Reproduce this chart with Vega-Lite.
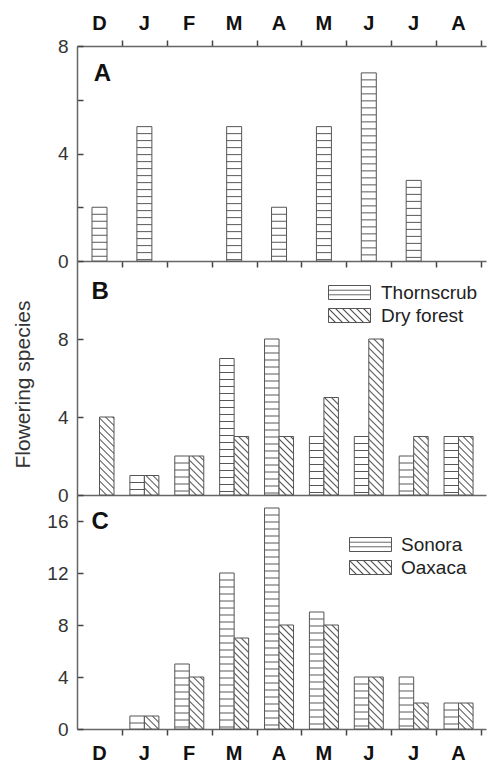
{
  "$schema": "https://vega.github.io/schema/vega-lite/v6.json",
  "padding": {"left": 12, "top": 13, "right": 2, "bottom": 0},
  "spacing": 0,
  "bounds": "flush",
  "config": {
    "view": {"stroke": null},
    "font": "Liberation Sans",
    "axis": {"grid": false, "domainColor": "#666", "domainWidth": 1.5, "tickColor": "#444", "tickWidth": 1.5, "labelFont": "Liberation Sans", "titleFont": "Liberation Sans", "labelColor": "#333", "titleColor": "#333"}
  },
  "params": [
    {"name": "hs", "value": [
      {"offset":0.0246,"color":"#fff"},{"offset":0.0286,"color":"#555"},{"offset":0.0326,"color":"#fff"},
      {"offset":0.0531,"color":"#fff"},{"offset":0.0571,"color":"#555"},{"offset":0.0611,"color":"#fff"},
      {"offset":0.0817,"color":"#fff"},{"offset":0.0857,"color":"#555"},{"offset":0.0897,"color":"#fff"},
      {"offset":0.1103,"color":"#fff"},{"offset":0.1143,"color":"#555"},{"offset":0.1183,"color":"#fff"},
      {"offset":0.1389,"color":"#fff"},{"offset":0.1429,"color":"#555"},{"offset":0.1469,"color":"#fff"},
      {"offset":0.1674,"color":"#fff"},{"offset":0.1714,"color":"#555"},{"offset":0.1754,"color":"#fff"},
      {"offset":0.196,"color":"#fff"},{"offset":0.2,"color":"#555"},{"offset":0.204,"color":"#fff"},
      {"offset":0.2246,"color":"#fff"},{"offset":0.2286,"color":"#555"},{"offset":0.2326,"color":"#fff"},
      {"offset":0.2531,"color":"#fff"},{"offset":0.2571,"color":"#555"},{"offset":0.2611,"color":"#fff"},
      {"offset":0.2817,"color":"#fff"},{"offset":0.2857,"color":"#555"},{"offset":0.2897,"color":"#fff"},
      {"offset":0.3103,"color":"#fff"},{"offset":0.3143,"color":"#555"},{"offset":0.3183,"color":"#fff"},
      {"offset":0.3389,"color":"#fff"},{"offset":0.3429,"color":"#555"},{"offset":0.3469,"color":"#fff"},
      {"offset":0.3674,"color":"#fff"},{"offset":0.3714,"color":"#555"},{"offset":0.3754,"color":"#fff"},
      {"offset":0.396,"color":"#fff"},{"offset":0.4,"color":"#555"},{"offset":0.404,"color":"#fff"},
      {"offset":0.4246,"color":"#fff"},{"offset":0.4286,"color":"#555"},{"offset":0.4326,"color":"#fff"},
      {"offset":0.4531,"color":"#fff"},{"offset":0.4571,"color":"#555"},{"offset":0.4611,"color":"#fff"},
      {"offset":0.4817,"color":"#fff"},{"offset":0.4857,"color":"#555"},{"offset":0.4897,"color":"#fff"},
      {"offset":0.5103,"color":"#fff"},{"offset":0.5143,"color":"#555"},{"offset":0.5183,"color":"#fff"},
      {"offset":0.5389,"color":"#fff"},{"offset":0.5429,"color":"#555"},{"offset":0.5469,"color":"#fff"},
      {"offset":0.5674,"color":"#fff"},{"offset":0.5714,"color":"#555"},{"offset":0.5754,"color":"#fff"},
      {"offset":0.596,"color":"#fff"},{"offset":0.6,"color":"#555"},{"offset":0.604,"color":"#fff"},
      {"offset":0.6246,"color":"#fff"},{"offset":0.6286,"color":"#555"},{"offset":0.6326,"color":"#fff"},
      {"offset":0.6531,"color":"#fff"},{"offset":0.6571,"color":"#555"},{"offset":0.6611,"color":"#fff"},
      {"offset":0.6817,"color":"#fff"},{"offset":0.6857,"color":"#555"},{"offset":0.6897,"color":"#fff"},
      {"offset":0.7103,"color":"#fff"},{"offset":0.7143,"color":"#555"},{"offset":0.7183,"color":"#fff"},
      {"offset":0.7389,"color":"#fff"},{"offset":0.7429,"color":"#555"},{"offset":0.7469,"color":"#fff"},
      {"offset":0.7674,"color":"#fff"},{"offset":0.7714,"color":"#555"},{"offset":0.7754,"color":"#fff"},
      {"offset":0.796,"color":"#fff"},{"offset":0.8,"color":"#555"},{"offset":0.804,"color":"#fff"},
      {"offset":0.8246,"color":"#fff"},{"offset":0.8286,"color":"#555"},{"offset":0.8326,"color":"#fff"},
      {"offset":0.8531,"color":"#fff"},{"offset":0.8571,"color":"#555"},{"offset":0.8611,"color":"#fff"},
      {"offset":0.8817,"color":"#fff"},{"offset":0.8857,"color":"#555"},{"offset":0.8897,"color":"#fff"},
      {"offset":0.9103,"color":"#fff"},{"offset":0.9143,"color":"#555"},{"offset":0.9183,"color":"#fff"},
      {"offset":0.9389,"color":"#fff"},{"offset":0.9429,"color":"#555"},{"offset":0.9469,"color":"#fff"},
      {"offset":0.9674,"color":"#fff"},{"offset":0.9714,"color":"#555"},{"offset":0.9754,"color":"#fff"}
    ]},
    {"name": "ds", "value": [
      {"offset":0.0226,"color":"#fff"},{"offset":0.0286,"color":"#555"},{"offset":0.0346,"color":"#fff"},
      {"offset":0.0511,"color":"#fff"},{"offset":0.0571,"color":"#555"},{"offset":0.0631,"color":"#fff"},
      {"offset":0.0797,"color":"#fff"},{"offset":0.0857,"color":"#555"},{"offset":0.0917,"color":"#fff"},
      {"offset":0.1083,"color":"#fff"},{"offset":0.1143,"color":"#555"},{"offset":0.1203,"color":"#fff"},
      {"offset":0.1369,"color":"#fff"},{"offset":0.1429,"color":"#555"},{"offset":0.1489,"color":"#fff"},
      {"offset":0.1654,"color":"#fff"},{"offset":0.1714,"color":"#555"},{"offset":0.1774,"color":"#fff"},
      {"offset":0.194,"color":"#fff"},{"offset":0.2,"color":"#555"},{"offset":0.206,"color":"#fff"},
      {"offset":0.2226,"color":"#fff"},{"offset":0.2286,"color":"#555"},{"offset":0.2346,"color":"#fff"},
      {"offset":0.2511,"color":"#fff"},{"offset":0.2571,"color":"#555"},{"offset":0.2631,"color":"#fff"},
      {"offset":0.2797,"color":"#fff"},{"offset":0.2857,"color":"#555"},{"offset":0.2917,"color":"#fff"},
      {"offset":0.3083,"color":"#fff"},{"offset":0.3143,"color":"#555"},{"offset":0.3203,"color":"#fff"},
      {"offset":0.3369,"color":"#fff"},{"offset":0.3429,"color":"#555"},{"offset":0.3489,"color":"#fff"},
      {"offset":0.3654,"color":"#fff"},{"offset":0.3714,"color":"#555"},{"offset":0.3774,"color":"#fff"},
      {"offset":0.394,"color":"#fff"},{"offset":0.4,"color":"#555"},{"offset":0.406,"color":"#fff"},
      {"offset":0.4226,"color":"#fff"},{"offset":0.4286,"color":"#555"},{"offset":0.4346,"color":"#fff"},
      {"offset":0.4511,"color":"#fff"},{"offset":0.4571,"color":"#555"},{"offset":0.4631,"color":"#fff"},
      {"offset":0.4797,"color":"#fff"},{"offset":0.4857,"color":"#555"},{"offset":0.4917,"color":"#fff"},
      {"offset":0.5083,"color":"#fff"},{"offset":0.5143,"color":"#555"},{"offset":0.5203,"color":"#fff"},
      {"offset":0.5369,"color":"#fff"},{"offset":0.5429,"color":"#555"},{"offset":0.5489,"color":"#fff"},
      {"offset":0.5654,"color":"#fff"},{"offset":0.5714,"color":"#555"},{"offset":0.5774,"color":"#fff"},
      {"offset":0.594,"color":"#fff"},{"offset":0.6,"color":"#555"},{"offset":0.606,"color":"#fff"},
      {"offset":0.6226,"color":"#fff"},{"offset":0.6286,"color":"#555"},{"offset":0.6346,"color":"#fff"},
      {"offset":0.6511,"color":"#fff"},{"offset":0.6571,"color":"#555"},{"offset":0.6631,"color":"#fff"},
      {"offset":0.6797,"color":"#fff"},{"offset":0.6857,"color":"#555"},{"offset":0.6917,"color":"#fff"},
      {"offset":0.7083,"color":"#fff"},{"offset":0.7143,"color":"#555"},{"offset":0.7203,"color":"#fff"},
      {"offset":0.7369,"color":"#fff"},{"offset":0.7429,"color":"#555"},{"offset":0.7489,"color":"#fff"},
      {"offset":0.7654,"color":"#fff"},{"offset":0.7714,"color":"#555"},{"offset":0.7774,"color":"#fff"},
      {"offset":0.794,"color":"#fff"},{"offset":0.8,"color":"#555"},{"offset":0.806,"color":"#fff"},
      {"offset":0.8226,"color":"#fff"},{"offset":0.8286,"color":"#555"},{"offset":0.8346,"color":"#fff"},
      {"offset":0.8511,"color":"#fff"},{"offset":0.8571,"color":"#555"},{"offset":0.8631,"color":"#fff"},
      {"offset":0.8797,"color":"#fff"},{"offset":0.8857,"color":"#555"},{"offset":0.8917,"color":"#fff"},
      {"offset":0.9083,"color":"#fff"},{"offset":0.9143,"color":"#555"},{"offset":0.9203,"color":"#fff"},
      {"offset":0.9369,"color":"#fff"},{"offset":0.9429,"color":"#555"},{"offset":0.9489,"color":"#fff"},
      {"offset":0.9654,"color":"#fff"},{"offset":0.9714,"color":"#555"},{"offset":0.9774,"color":"#fff"}
    ]},
    {"name": "lh", "value": {"gradient": "linear", "x1": 0, "y1": 0, "x2": 0, "y2": 1, "stops": [
      {"offset":0.27,"color":"#fff"},{"offset":0.333,"color":"#555"},{"offset":0.4,"color":"#fff"},
      {"offset":0.6,"color":"#fff"},{"offset":0.667,"color":"#555"},{"offset":0.73,"color":"#fff"}]}},
    {"name": "ld", "expr": "{gradient:'linear',x1:0,y1:1,x2:5.25,y2:-0.75,stops:ds}"}
  ],
  "resolve": {"scale": {"stroke": "independent"}},
  "vconcat": [
    {
      "width": 409, "height": 215,
      "data": {"values": [
        {"month":"D","idx":0,"v":2},{"month":"J","idx":1,"v":5},{"month":"M","idx":3,"v":5},
        {"month":"A","idx":4,"v":2},{"month":"M","idx":5,"v":5},{"month":"J","idx":6,"v":7},{"month":"J","idx":7,"v":3}
      ]},
      "resolve": {"axis": {"x": "independent"}},
      "layer": [
        {
          "mark": {"type": "bar", "width": 15, "stroke": "#555", "strokeWidth": 1,
                   "fill": {"expr": "{gradient:'linear',x1:0,y1:0,x2:0,y2:245/(datum.v*26.875),stops:hs}"}},
          "encoding": {
            "x": {"field": "idx", "type": "quantitative",
                  "scale": {"domain": [-0.39, 8.5], "nice": false, "zero": false},
                  "axis": {"orient": "top", "title": null, "values": [0.5,1.5,2.5,3.5,4.5,5.5,6.5,7.5,8.5],
                           "labelExpr": "['D','J','F','M','A','M','J','J','A'][round(datum.value-0.5)]",
                           "labelOffset": -23, "labelFontSize": 20, "labelFontWeight": "bold", "labelColor": "#111",
                           "labelPadding": 7, "labelOverlap": false, "labelFlush": false, "tickSize": 6}},
            "y": {"field": "v", "type": "quantitative", "scale": {"domain": [0, 8], "nice": false},
                  "axis": {"title": null, "values": [0,2,4,6,8], "labelExpr": "datum.value % 4 == 0 ? datum.label : ''",
                           "tickSize": -6, "labelPadding": 15, "labelFontSize": 19}}
          }
        },
        {
          "data": {"values": [{"panel": "A"}]},
          "mark": {"type": "text", "align": "left", "baseline": "alphabetic", "fontSize": 24, "fontWeight": "bold", "color": "#111"},
          "encoding": {
            "text": {"field": "panel"},
            "x": {"datum": -0.13, "type": "quantitative",
                  "axis": {"orient": "bottom", "title": null, "values": [0.5,1.5,2.5,3.5,4.5,5.5,6.5,7.5,8.5], "labels": false, "tickSize": 6}},
            "y": {"datum": 6.69, "type": "quantitative",
                  "axis": {"title": null, "values": [0,2,4,6,8], "labelExpr": "datum.value % 4 == 0 ? datum.label : ''",
                           "tickSize": -6, "labelPadding": 15, "labelFontSize": 19}}
          }
        }
      ]
    },
    {
      "width": 409, "height": 234,
      "data": {"values": [
        {"series":"Thornscrub","month":"J","idx":1,"v":1},{"series":"Thornscrub","month":"F","idx":2,"v":2},
        {"series":"Thornscrub","month":"M","idx":3,"v":7},{"series":"Thornscrub","month":"A","idx":4,"v":8},
        {"series":"Thornscrub","month":"M","idx":5,"v":3},{"series":"Thornscrub","month":"J","idx":6,"v":3},
        {"series":"Thornscrub","month":"J","idx":7,"v":2},{"series":"Thornscrub","month":"A","idx":8,"v":3},
        {"series":"Dry forest","month":"D","idx":0,"v":4},{"series":"Dry forest","month":"J","idx":1,"v":1},
        {"series":"Dry forest","month":"F","idx":2,"v":2},{"series":"Dry forest","month":"M","idx":3,"v":3},
        {"series":"Dry forest","month":"A","idx":4,"v":3},{"series":"Dry forest","month":"M","idx":5,"v":5},
        {"series":"Dry forest","month":"J","idx":6,"v":8},{"series":"Dry forest","month":"J","idx":7,"v":3},
        {"series":"Dry forest","month":"A","idx":8,"v":3}
      ]},
      "layer": [
        {
          "transform": [{"filter": "datum.series == 'Thornscrub'"}],
          "mark": {"type": "bar", "width": 14.5, "xOffset": -7.25, "strokeWidth": 1,
                   "fill": {"expr": "isValid(datum.v) ? {gradient:'linear',x1:0,y1:0,x2:0,y2:245/(datum.v*19.5),stops:hs} : (datum.value == 'Dry forest' ? ld : lh)"}},
          "encoding": {
            "x": {"field": "idx", "type": "quantitative",
                  "scale": {"domain": [-0.39, 8.5], "nice": false, "zero": false},
                  "axis": {"orient": "bottom", "title": null, "ticks": false, "labels": false}},
            "y": {"field": "v", "type": "quantitative", "scale": {"domain": [0, 12], "nice": false},
                  "axis": {"title": "Flowering species", "titleFontSize": 21, "titleFontWeight": "normal", "titlePadding": 24, "titleY": 123,
                           "values": [0,4,8], "tickSize": -6, "labelPadding": 15, "labelFontSize": 19}},
            "stroke": {"field": "series", "type": "nominal",
                       "scale": {"domain": ["Thornscrub", "Dry forest"], "range": ["#555", "#555"]},
                       "legend": {"title": null, "orient": "none", "legendX": 249, "legendY": 22,
                                  "symbolType": "M-3,-1L3,-1L3,1L-3,1Z", "symbolSize": 196, "symbolOffset": 14,
                                  "symbolStrokeWidth": 1, "labelFontSize": 19, "labelColor": "#222", "labelOffset": 22, "rowPadding": 3,
                                  "encode": {"symbols": {"fill": {"value": {"expr": "datum.value == 'Dry forest' ? ld : lh"}}}}}}
          }
        },
        {
          "transform": [{"filter": "datum.series == 'Dry forest'"}],
          "mark": {"type": "bar", "width": 14.5, "xOffset": 7.25, "strokeWidth": 1,
                   "fill": {"expr": "isValid(datum.v) ? {gradient:'linear',x1:0,y1:1,x2:245*14.5/(210.25+pow(datum.v*19.5,2)),y2:1-245*datum.v*19.5/(210.25+pow(datum.v*19.5,2)),stops:ds} : (datum.value == 'Dry forest' ? ld : lh)"}},
          "encoding": {
            "x": {"field": "idx", "type": "quantitative",
                  "axis": {"orient": "bottom", "title": null, "ticks": false, "labels": false}},
            "y": {"field": "v", "type": "quantitative",
                  "axis": {"title": "Flowering species", "titleFontSize": 21, "titleFontWeight": "normal", "titlePadding": 24, "titleY": 123,
                           "values": [0,4,8], "tickSize": -6, "labelPadding": 15, "labelFontSize": 19}},
            "stroke": {"field": "series", "type": "nominal",
                       "scale": {"domain": ["Thornscrub", "Dry forest"], "range": ["#555", "#555"]},
                       "legend": {"title": null, "orient": "none", "legendX": 249, "legendY": 22,
                                  "symbolType": "M-3,-1L3,-1L3,1L-3,1Z", "symbolSize": 196, "symbolOffset": 14,
                                  "symbolStrokeWidth": 1, "labelFontSize": 19, "labelColor": "#222", "labelOffset": 22, "rowPadding": 3,
                                  "encode": {"symbols": {"fill": {"value": {"expr": "datum.value == 'Dry forest' ? ld : lh"}}}}}}
          }
        },
        {
          "data": {"values": [{"panel": "B"}]},
          "mark": {"type": "text", "align": "left", "baseline": "alphabetic", "fontSize": 24, "fontWeight": "bold", "color": "#111"},
          "encoding": {
            "text": {"field": "panel"},
            "x": {"datum": -0.18, "type": "quantitative",
                  "axis": {"orient": "bottom", "title": null, "ticks": false, "labels": false}},
            "y": {"datum": 10.03, "type": "quantitative",
                  "axis": {"title": "Flowering species", "titleFontSize": 21, "titleFontWeight": "normal", "titlePadding": 24, "titleY": 123,
                           "values": [0,4,8], "tickSize": -6, "labelPadding": 15, "labelFontSize": 19}}
          }
        }
      ]
    },
    {
      "width": 409, "height": 234,
      "data": {"values": [
        {"series":"Sonora","month":"J","idx":1,"v":1},{"series":"Sonora","month":"F","idx":2,"v":5},
        {"series":"Sonora","month":"M","idx":3,"v":12},{"series":"Sonora","month":"A","idx":4,"v":17},
        {"series":"Sonora","month":"M","idx":5,"v":9},{"series":"Sonora","month":"J","idx":6,"v":4},
        {"series":"Sonora","month":"J","idx":7,"v":4},{"series":"Sonora","month":"A","idx":8,"v":2},
        {"series":"Oaxaca","month":"J","idx":1,"v":1},{"series":"Oaxaca","month":"F","idx":2,"v":4},
        {"series":"Oaxaca","month":"M","idx":3,"v":7},{"series":"Oaxaca","month":"A","idx":4,"v":8},
        {"series":"Oaxaca","month":"M","idx":5,"v":8},{"series":"Oaxaca","month":"J","idx":6,"v":4},
        {"series":"Oaxaca","month":"J","idx":7,"v":2},{"series":"Oaxaca","month":"A","idx":8,"v":2}
      ]},
      "layer": [
        {
          "transform": [{"filter": "datum.series == 'Sonora'"}],
          "mark": {"type": "bar", "width": 14.5, "xOffset": -7.25, "strokeWidth": 1,
                   "fill": {"expr": "isValid(datum.v) ? {gradient:'linear',x1:0,y1:0,x2:0,y2:245/(datum.v*13),stops:hs} : (datum.value == 'Oaxaca' ? ld : lh)"}},
          "encoding": {
            "x": {"field": "idx", "type": "quantitative",
                  "scale": {"domain": [-0.39, 8.5], "nice": false, "zero": false},
                  "axis": {"orient": "bottom", "title": null, "values": [0.5,1.5,2.5,3.5,4.5,5.5,6.5,7.5,8.5],
                           "labelExpr": "['D','J','F','M','A','M','J','J','A'][round(datum.value-0.5)]",
                           "labelOffset": -23, "labelFontSize": 20, "labelFontWeight": "bold", "labelColor": "#111",
                           "labelPadding": 8, "labelOverlap": false, "labelFlush": false, "tickSize": 6}},
            "y": {"field": "v", "type": "quantitative", "scale": {"domain": [0, 18], "nice": false},
                  "axis": {"title": null, "values": [0,4,8,12,16], "tickSize": -6, "labelPadding": 15, "labelFontSize": 19}},
            "stroke": {"field": "series", "type": "nominal",
                       "scale": {"domain": ["Sonora", "Oaxaca"], "range": ["#555", "#555"]},
                       "legend": {"title": null, "orient": "none", "legendX": 270, "legendY": 40,
                                  "symbolType": "M-3,-1L3,-1L3,1L-3,1Z", "symbolSize": 196, "symbolOffset": 14,
                                  "symbolStrokeWidth": 1, "labelFontSize": 19, "labelColor": "#222", "labelOffset": 21, "rowPadding": 3,
                                  "encode": {"symbols": {"fill": {"value": {"expr": "datum.value == 'Oaxaca' ? ld : lh"}}}}}}
          }
        },
        {
          "transform": [{"filter": "datum.series == 'Oaxaca'"}],
          "mark": {"type": "bar", "width": 14.5, "xOffset": 7.25, "strokeWidth": 1,
                   "fill": {"expr": "isValid(datum.v) ? {gradient:'linear',x1:0,y1:1,x2:245*14.5/(210.25+pow(datum.v*13,2)),y2:1-245*datum.v*13/(210.25+pow(datum.v*13,2)),stops:ds} : (datum.value == 'Oaxaca' ? ld : lh)"}},
          "encoding": {
            "x": {"field": "idx", "type": "quantitative",
                  "axis": {"orient": "bottom", "title": null, "values": [0.5,1.5,2.5,3.5,4.5,5.5,6.5,7.5,8.5],
                           "labelExpr": "['D','J','F','M','A','M','J','J','A'][round(datum.value-0.5)]",
                           "labelOffset": -23, "labelFontSize": 20, "labelFontWeight": "bold", "labelColor": "#111",
                           "labelPadding": 8, "labelOverlap": false, "labelFlush": false, "tickSize": 6}},
            "y": {"field": "v", "type": "quantitative",
                  "axis": {"title": null, "values": [0,4,8,12,16], "tickSize": -6, "labelPadding": 15, "labelFontSize": 19}},
            "stroke": {"field": "series", "type": "nominal",
                       "scale": {"domain": ["Sonora", "Oaxaca"], "range": ["#555", "#555"]},
                       "legend": {"title": null, "orient": "none", "legendX": 270, "legendY": 40,
                                  "symbolType": "M-3,-1L3,-1L3,1L-3,1Z", "symbolSize": 196, "symbolOffset": 14,
                                  "symbolStrokeWidth": 1, "labelFontSize": 19, "labelColor": "#222", "labelOffset": 21, "rowPadding": 3,
                                  "encode": {"symbols": {"fill": {"value": {"expr": "datum.value == 'Oaxaca' ? ld : lh"}}}}}}
          }
        },
        {
          "data": {"values": [{"panel": "C"}]},
          "mark": {"type": "text", "align": "left", "baseline": "alphabetic", "fontSize": 24, "fontWeight": "bold", "color": "#111"},
          "encoding": {
            "text": {"field": "panel"},
            "x": {"datum": -0.18, "type": "quantitative",
                  "axis": {"orient": "bottom", "title": null, "values": [0.5,1.5,2.5,3.5,4.5,5.5,6.5,7.5,8.5],
                           "labelExpr": "['D','J','F','M','A','M','J','J','A'][round(datum.value-0.5)]",
                           "labelOffset": -23, "labelFontSize": 20, "labelFontWeight": "bold", "labelColor": "#111",
                           "labelPadding": 8, "labelOverlap": false, "labelFlush": false, "tickSize": 6}},
            "y": {"datum": 15.4, "type": "quantitative",
                  "axis": {"title": null, "values": [0,4,8,12,16], "tickSize": -6, "labelPadding": 15, "labelFontSize": 19}}
          }
        }
      ]
    }
  ]
}
